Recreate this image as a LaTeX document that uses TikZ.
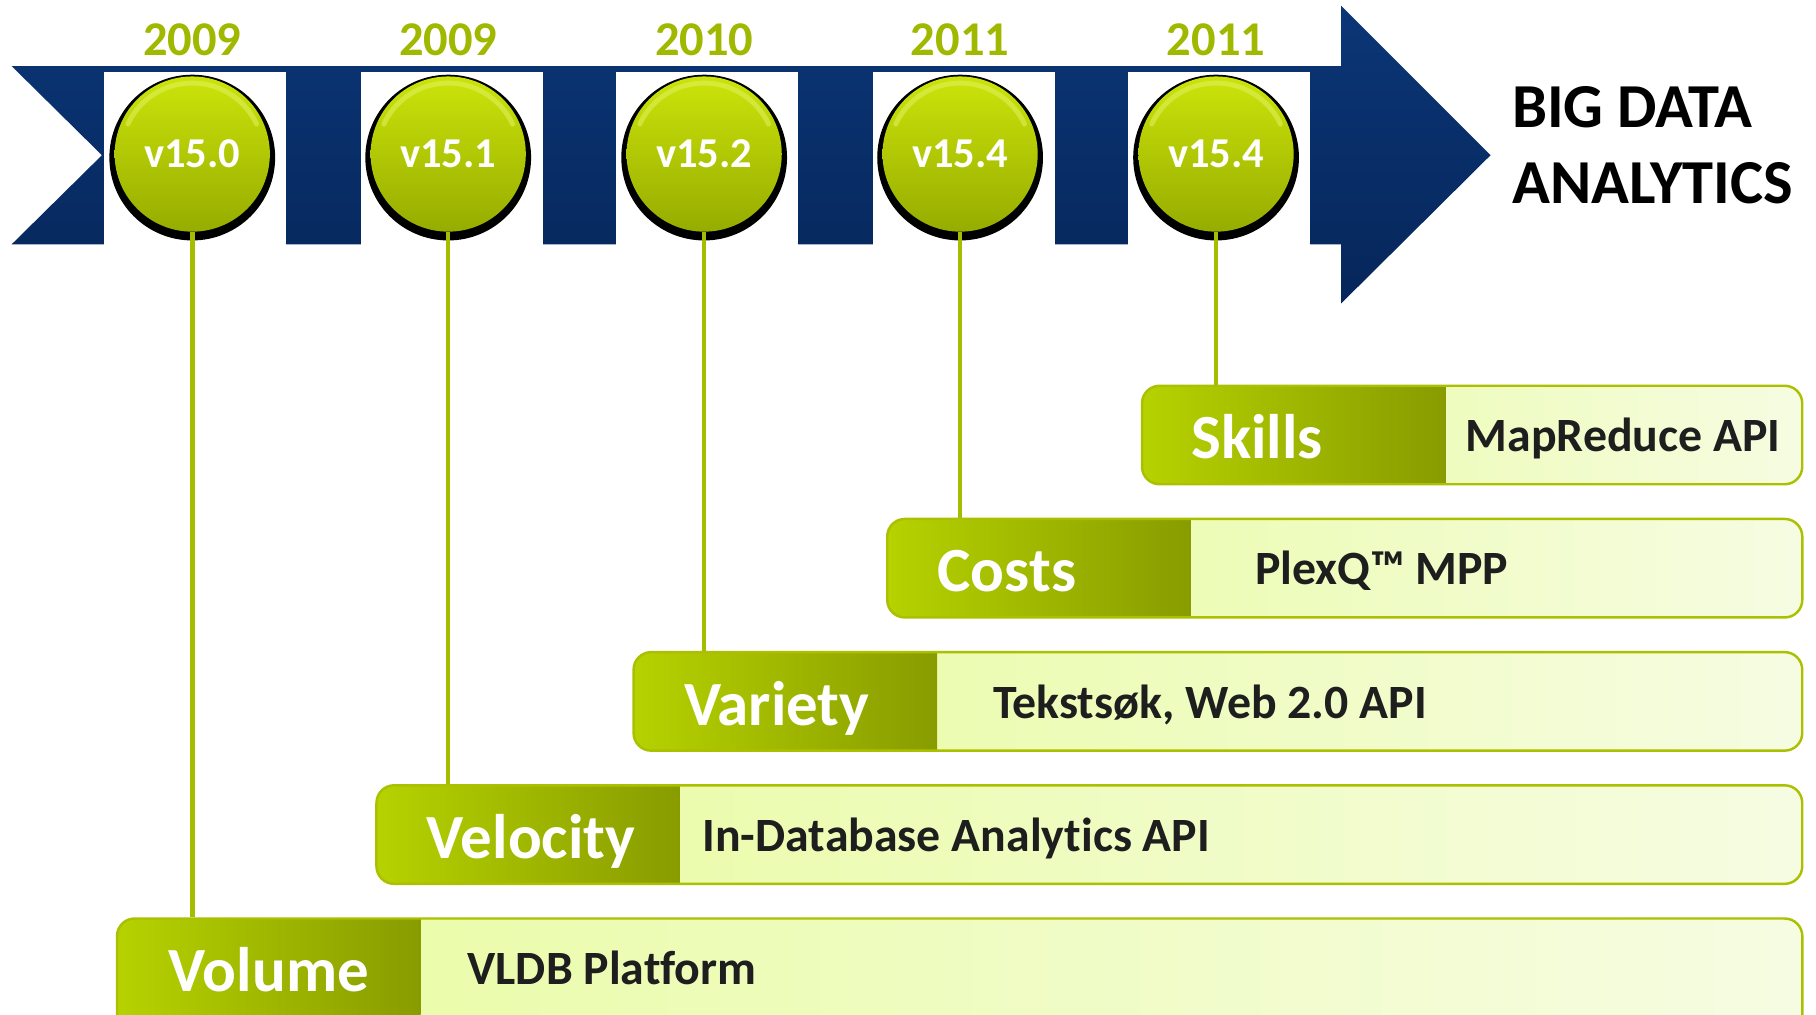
\documentclass[tikz,border=0pt]{standalone}
\usepackage{fontspec}
\setmainfont{Carlito}[Ligatures={NoCommon,NoContextual}]
\definecolor{navytop}{RGB}{11,54,118}
\definecolor{navybot}{RGB}{6,38,90}
\definecolor{yearcol}{RGB}{160,184,0}
\definecolor{ballT}{RGB}{204,228,10}
\definecolor{ballB}{RGB}{150,172,0}
\definecolor{ballRim}{RGB}{222,240,90}
\definecolor{stemcol}{RGB}{166,188,0}
\definecolor{barline}{RGB}{170,192,0}
\definecolor{darkL}{RGB}{182,210,0}
\definecolor{darkR}{RGB}{136,156,0}
\definecolor{paleL}{RGB}{232,252,160}
\definecolor{paleR}{RGB}{246,252,226}
\definecolor{desccol}{RGB}{30,30,30}
\begin{document}
\begin{tikzpicture}[x=0.011582cm, y=-0.011582cm,
  year/.style={text=yearcol, font=\bfseries\fontsize{13.8}{16}\selectfont, anchor=base, inner sep=0},
  ver/.style={circle, minimum size=1.552cm, inner sep=0, top color=ballT, bottom color=ballB,
    text=white, font=\bfseries\fontsize{12.1}{14}\selectfont,
    preaction={fill=black, draw=black, line width=3pt, transform canvas={yshift=-1pt}},
    path picture={
      \draw[ballRim, line width=1.4pt, opacity=0.6, line cap=round]
        ([shift={(155:0.71cm)}]path picture bounding box.center)
        arc[start angle=155, end angle=25, radius=0.71cm];
    }},
  window/.style={fill=white},
  stem/.style={draw=stemcol, line width=1.3pt},
  bar/.style={draw=barline, line width=0.7pt, rounded corners=5pt, anchor=north west,
    inner sep=0, minimum height=0.985cm,
    path picture={
      \shade[sharp corners, left color=paleL, right color=paleR]
        (path picture bounding box.south west) rectangle (path picture bounding box.north east);
      \shade[sharp corners, left color=darkL, right color=darkR]
        (path picture bounding box.south west) rectangle ([xshift=3.0345cm]path picture bounding box.north west);
    }},
  lab/.style={anchor=base west, inner sep=0, text=white, font=\bfseries\fontsize{17.9}{20}\selectfont},
  desc/.style={anchor=base west, inner sep=0, text=desccol, font=\bfseries\fontsize{13.6}{16}\selectfont},
  big/.style={anchor=base west, inner sep=0, text=black, font=\bfseries\fontsize{17.8}{20}\selectfont}
]
\useasboundingbox (0,0) rectangle (1568,876);
\begin{scope}
\clip (0,0) rectangle (1568,876);

% timeline band with notched tail and arrow head
\shade[top color=navytop, bottom color=navybot]
  (10,57) -- (1158,57) -- (1158,5) -- (1287,134) -- (1158,262) -- (1158,211)
  -- (10,211) -- (88,134) -- cycle;

% white windows for the release markers
\fill[window] (90,62) rectangle (247,212);
\fill[window] (312,62) rectangle (469,212);
\fill[window] (532,62) rectangle (689,212);
\fill[window] (754,62) rectangle (911,212);
\fill[window] (974,62) rectangle (1131,212);

% years
\node[year] (y1) at (166,48) {2009};
\node[year] (y2) at (387,48) {2009};
\node[year] (y3) at (608,48) {2010};
\node[year] (y4) at (829,48) {2011};
\node[year] (y5) at (1050,48) {2011};

% release balls
\node[ver] (c1) at (166,133) {v15.0};
\node[ver] (c2) at (387,133) {v15.1};
\node[ver] (c3) at (608,133) {v15.2};
\node[ver] (c4) at (829,133) {v15.4};
\node[ver] (c5) at (1050,133) {v15.4};

% headline
\node[big] (bd1) at (1305,110) {BIG DATA};
\node[big] (bd2) at (1305,176) {ANALYTICS};

% feature bars
\node[bar, minimum width=6.602cm]  (skills) at (985,332) {};
\node[bar, minimum width=9.150cm]  (costs)  at (765,447) {};
\node[bar, minimum width=11.686cm] (variety) at (546,562) {};
\node[bar, minimum width=14.257cm] (velocity) at (324,677) {};
\node[bar, minimum width=16.852cm, minimum height=1.2cm] (volume) at (100,792) {};

% stems from each release down to its bar
\draw[stem] (c1.south) -- (c1.south |- volume.north);
\draw[stem] (c2.south) -- (c2.south |- velocity.north);
\draw[stem] (c3.south) -- (c3.south |- variety.north);
\draw[stem] (c4.south) -- (c4.south |- costs.north);
\draw[stem] (c5.south) -- (c5.south |- skills.north);

% bar titles
\node[lab] (skillsL) at (1028,396) {Skills};
\node[lab] (costsL) at (809,511) {Costs};
\node[lab] (varietyL) at (590,626) {Variety};
\node[lab] (velocityL) at (368,741) {Velocity};
\node[lab] (volumeL) at (145,856) {Volume};

% bar descriptions
\node[desc] (skillsD) at (1265,390) {MapReduce API};
\node[desc] (costsD) at (1083,505) {PlexQ™ MPP};
\node[desc] (varietyD) at (857,620) {Tekstsøk, Web 2.0 API};
\node[desc] (velocityD) at (606,735) {In-Database Analytics API};
\node[desc] (volumeD) at (403,850) {VLDB Platform};
\end{scope}
\end{tikzpicture}
\end{document}
